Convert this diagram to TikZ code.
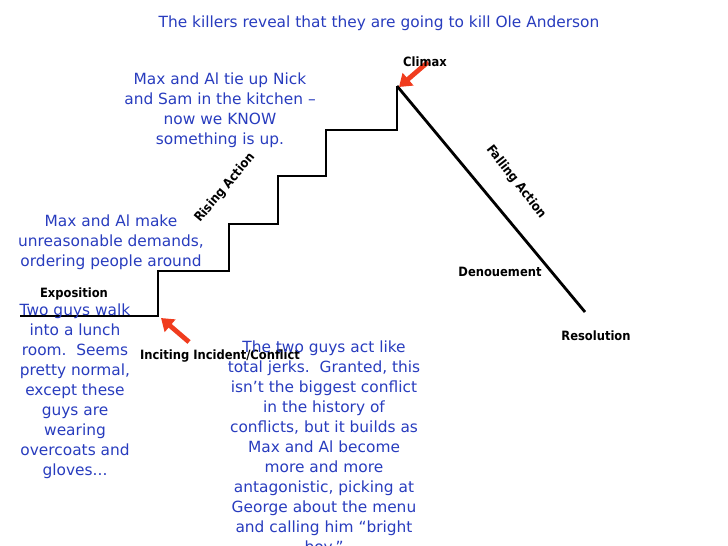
\documentclass[tikz,border=0pt]{standalone}
\usepackage{fontspec}
\setmainfont{DejaVu Sans}
\newfontfamily\labelfont{DejaVu Sans Condensed}
\definecolor{noteblue}{RGB}{40,60,190}
\definecolor{arrowred}{RGB}{240,60,30}
\tikzset{
  note/.style={text=noteblue, align=center, inner sep=0pt, font=\fontsize{7.7}{10}\selectfont},
  tag/.style={font=\labelfont\bfseries\fontsize{6.4}{7}\selectfont, inner sep=0pt},
  pointer/.style={draw=arrowred, line width=2.4pt, -{Triangle[length=6pt,width=8pt]}}
}
\usetikzlibrary{arrows.meta}
\begin{document}
\begin{tikzpicture}[x=0.5pt,y=-0.5pt]
  \useasboundingbox (0,0) rectangle (728,546);

  % Staircase and falling line
  \coordinate (start) at (20,316);
  \coordinate (top) at (397,86);
  \coordinate (end) at (585,312);
  \draw [line width=1.4pt, line join=miter]
    (start) -- (158,316) -- (158,271) -- (229,271) -- (229,224) -- (278,224)
    -- (278,176) -- (326,176) -- (326,130) -- (397,130) -- (top);
  \draw [line width=1.4pt] (top) -- (end);

  % Red pointers
  \coordinate (climaxtail) at (428,62);
  \coordinate (incitetail) at (189,342);
  \draw [pointer] (climaxtail) -- ([shift={(2,1)}]top);
  \draw [pointer] (incitetail) -- (161,318);

  % Stage labels
  \node [tag] (climax) at (425,62) {Climax};
  \node [tag] (exposition) at (74,294) {Exposition};
  \node [tag] (inciting) at (220,356) {Inciting Incident/Conflict};
  \node [tag, rotate=50] (rising) at (225,188) {Rising Action};
  \node [tag, rotate=-52] (falling) at (516,182) {Falling Action};
  \node [tag] (denouement) at (500,272) {Denouement};
  \node [tag] (resolution) at (596,336) {Resolution};

  % Notes
  \node [note] (reveal) at (379,23) {The killers reveal that they are going to kill Ole Anderson};
  \node [note] (tieup) at (220,110) {Max and Al tie up Nick\\and Sam in the kitchen –\\now we KNOW\\something is up.};
  \node [note] (demands) at (111,242) {Max and Al make\\unreasonable demands,\\ordering people around};
  \node [note, anchor=north] (lunch) at (75,303) {Two guys walk\\into a lunch\\room.\ \ Seems\\pretty normal,\\except these\\guys are\\wearing\\overcoats and\\gloves...};
  \node [note, anchor=north] (jerks) at (324,340) {The two guys act like\\total jerks.\ \ Granted, this\\isn’t the biggest conflict\\in the history of\\conflicts, but it builds as\\Max and Al become\\more and more\\antagonistic, picking at\\George about the menu\\and calling him “bright\\boy.”};
\end{tikzpicture}
\end{document}
